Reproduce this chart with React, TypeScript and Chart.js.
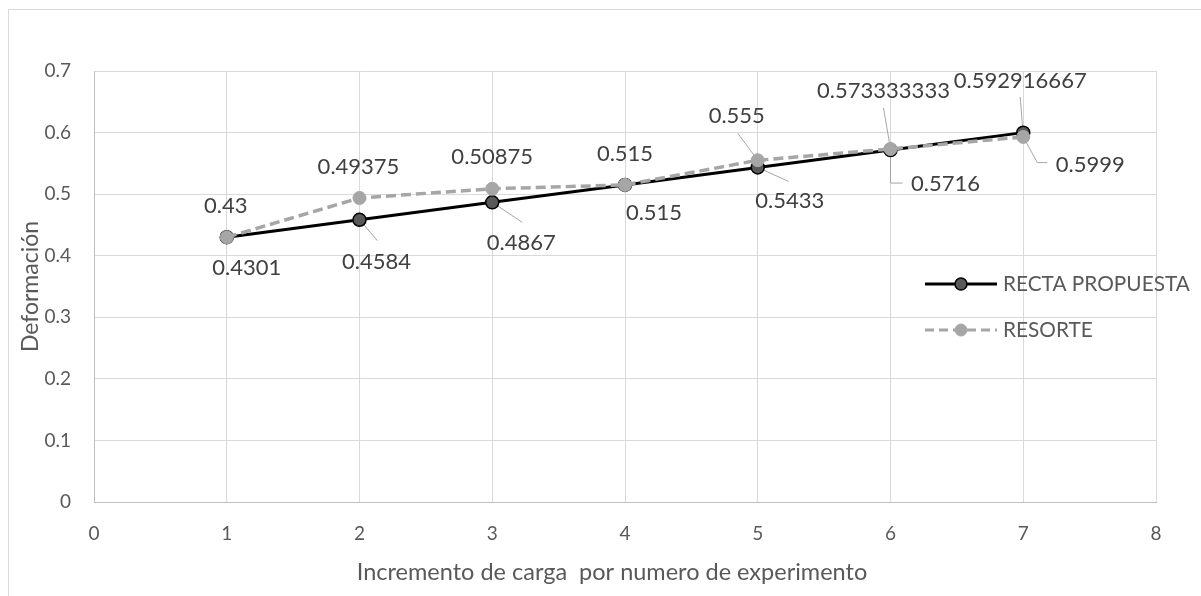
import React, { useEffect, useRef } from "react";
import { Chart, registerables } from "chart.js";

Chart.register(...registerables);

// ---- data ----
const experiments = [1, 2, 3, 4, 5, 6, 7];
const rectaPropuesta = [0.4301, 0.4584, 0.4867, 0.515, 0.5433, 0.5716, 0.5999];
const resorte = [0.43, 0.49375, 0.50875, 0.515, 0.555, 0.573333333, 0.592916667];
const rectaLabels = ["0.4301", "0.4584", "0.4867", "0.515", "0.5433", "0.5716", "0.5999"];
const resorteLabels = ["0.43", "0.49375", "0.50875", "0.515", "0.555", "0.573333333", "0.592916667"];
const seriesNames = ["RECTA PROPUESTA", "RESORTE"];
const xAxisTitle = "Incremento de carga  por numero de experimento";
const yAxisTitle = "Deformación";
const xRange = [0, 8];
const yRange = [0, 0.7];

// ---- label placement (style, pixel offsets relative to the point) ----
type Placement = { dx: number; dy: number; leader?: number[][] };
const rectaPlacement: Placement[] = [
  { dx: 20, dy: 30 },
  { dx: 17, dy: 41, leader: [[0, 0], [18, 21]] },
  { dx: 29, dy: 40, leader: [[0, 0], [30, 20]] },
  { dx: 29, dy: 27 },
  { dx: 32, dy: 33, leader: [[0, 0], [31, 14]] },
  { dx: 55, dy: 33, leader: [[0, 0], [0, 33], [12, 33]] },
  { dx: 67, dy: 31, leader: [[0, 4], [14, 30], [24, 30]] },
];
const resortePlacement: Placement[] = [
  { dx: -1, dy: -32 },
  { dx: -1, dy: -32 },
  { dx: 0, dy: -33 },
  { dx: 0, dy: -32 },
  { dx: -21, dy: -45, leader: [[-20, -27], [0, 0]] },
  { dx: -7, dy: -59, leader: [[-7, -41], [0, 0]] },
  { dx: -3, dy: -57, leader: [[-3, -40], [0, 0]] },
];

const FONT = "Lato";
const TEXT = "#595959";
const LABEL = "#404040";
const GRID = "#d9d9d9";

const overlayPlugin = {
  id: "overlay",
  beforeDatasetsDraw(chart: any) {
    const ctx = chart.ctx;
    const xs = chart.scales.x;
    const ys = chart.scales.y;
    ctx.save();
    ctx.strokeStyle = "#a6a6a6";
    ctx.lineWidth = 1;
    const drawLeaders = (vals: number[], pl: Placement[]) => {
      vals.forEach((v, i) => {
        const p = pl[i];
        if (!p.leader) return;
        const px = xs.getPixelForValue(experiments[i]);
        const py = ys.getPixelForValue(v);
        ctx.beginPath();
        p.leader.forEach((pt, k) => {
          const X = px + pt[0];
          const Y = py + pt[1];
          if (k === 0) ctx.moveTo(X, Y);
          else ctx.lineTo(X, Y);
        });
        ctx.stroke();
      });
    };
    drawLeaders(rectaPropuesta, rectaPlacement);
    drawLeaders(resorte, resortePlacement);
    ctx.restore();
  },
  afterDatasetsDraw(chart: any) {
    const ctx = chart.ctx;
    const xs = chart.scales.x;
    const ys = chart.scales.y;
    const size = 22;
    ctx.save();
    ctx.font = `${size}px ${FONT}`;
    ctx.fillStyle = LABEL;
    ctx.textAlign = "center";
    ctx.textBaseline = "alphabetic";
    const drawLabels = (vals: number[], texts: string[], pl: Placement[]) => {
      vals.forEach((v, i) => {
        const px = xs.getPixelForValue(experiments[i]);
        const py = ys.getPixelForValue(v);
        ctx.fillText(texts[i], px + pl[i].dx, py + pl[i].dy + size * 0.36);
      });
    };
    drawLabels(rectaPropuesta, rectaLabels, rectaPlacement);
    drawLabels(resorte, resorteLabels, resortePlacement);
    ctx.restore();
  },
  afterDraw(chart: any) {
    const ctx = chart.ctx;
    const area = chart.chartArea;
    ctx.save();
    // outer frame
    ctx.strokeStyle = GRID;
    ctx.lineWidth = 1;
    ctx.beginPath();
    ctx.moveTo(8.5, 700);
    ctx.lineTo(8.5, 9.5);
    ctx.lineTo(1300, 9.5);
    ctx.stroke();

    // axis titles
    ctx.fillStyle = TEXT;
    ctx.textAlign = "center";
    ctx.textBaseline = "alphabetic";
    ctx.font = `23.5px ${FONT}`;
    ctx.fillText(xAxisTitle, 612, 580);
    ctx.font = `23px ${FONT}`;
    ctx.save();
    ctx.translate(38, (area.top + area.bottom) / 2);
    ctx.rotate(-Math.PI / 2);
    ctx.fillText(yAxisTitle, 0, 0);
    ctx.restore();

    // legend
    const lSize = 20.8;
    const items = [
      { name: seriesNames[0], y: 284, color: "#000000", fill: "#595959", dash: [] as number[] },
      { name: seriesNames[1], y: 330, color: "#a6a6a6", fill: "#a6a6a6", dash: [9, 5] },
    ];
    items.forEach((it) => {
      ctx.strokeStyle = it.color;
      ctx.lineWidth = 3;
      ctx.setLineDash(it.dash);
      ctx.beginPath();
      ctx.moveTo(925, it.y);
      ctx.lineTo(997, it.y);
      ctx.stroke();
      ctx.setLineDash([]);
      ctx.beginPath();
      ctx.arc(961, it.y, 6, 0, Math.PI * 2);
      ctx.fillStyle = it.fill;
      ctx.fill();
      ctx.lineWidth = it.color === "#000000" ? 1.5 : 1;
      ctx.strokeStyle = it.color;
      ctx.stroke();
      ctx.fillStyle = TEXT;
      ctx.font = `${lSize}px ${FONT}`;
      ctx.textAlign = "left";
      ctx.fillText(it.name, 1003, it.y + lSize * 0.36);
    });
    ctx.restore();
  },
};

export default function App() {
  const ref = useRef<HTMLCanvasElement | null>(null);
  useEffect(() => {
    if (!ref.current) return;
    const chart = new Chart(ref.current, {
      type: "scatter",
      data: {
        datasets: [
          {
            label: seriesNames[1],
            data: experiments.map((x, i) => ({ x, y: resorte[i] })),
            showLine: true,
            borderColor: "#a6a6a6",
            borderWidth: 3.5,
            borderDash: [10, 5],
            pointBackgroundColor: "#a6a6a6",
            pointBorderColor: "#a6a6a6",
            pointBorderWidth: 1,
            pointRadius: 6.5,
            tension: 0,
            order: 0,
          },
          {
            label: seriesNames[0],
            data: experiments.map((x, i) => ({ x, y: rectaPropuesta[i] })),
            showLine: true,
            borderColor: "#000000",
            borderWidth: 3,
            pointBackgroundColor: "#595959",
            pointBorderColor: "#000000",
            pointBorderWidth: 1.5,
            pointRadius: 6.5,
            tension: 0,
            order: 1,
          },
        ],
      },
      options: {
        responsive: false,
        animation: false,
        devicePixelRatio: 1,
        layout: { padding: { left: 0, top: 71, right: 45, bottom: 0 } },
        plugins: { legend: { display: false }, tooltip: { enabled: false } },
        scales: {
          x: {
            type: "linear",
            min: xRange[0],
            max: xRange[1],
            afterFit: (s: any) => {
              s.height = 94;
            },
            ticks: {
              stepSize: 1,
              color: TEXT,
              font: { family: FONT, size: 19 },
              padding: 20,
              maxRotation: 0,
            },
            grid: { color: GRID, drawTicks: false, lineWidth: 1 },
            border: { color: "#bfbfbf", width: 1 },
          },
          y: {
            type: "linear",
            min: yRange[0],
            max: yRange[1],
            afterFit: (s: any) => {
              s.width = 94;
            },
            ticks: {
              stepSize: 0.1,
              color: TEXT,
              font: { family: FONT, size: 19 },
              padding: 23,
              callback: (v: any) => String(Number(Number(v).toFixed(1))),
            },
            grid: { color: GRID, drawTicks: false, lineWidth: 1 },
            border: { color: "#bfbfbf", width: 1 },
          },
        },
      },
      plugins: [overlayPlugin],
    });
    return () => chart.destroy();
  }, []);
  return (
    <div style={{ position: "absolute", left: 0, top: 0, width: 1201, height: 596, background: "#fff" }}>
      <canvas ref={ref} width={1201} height={596} />
    </div>
  );
}
